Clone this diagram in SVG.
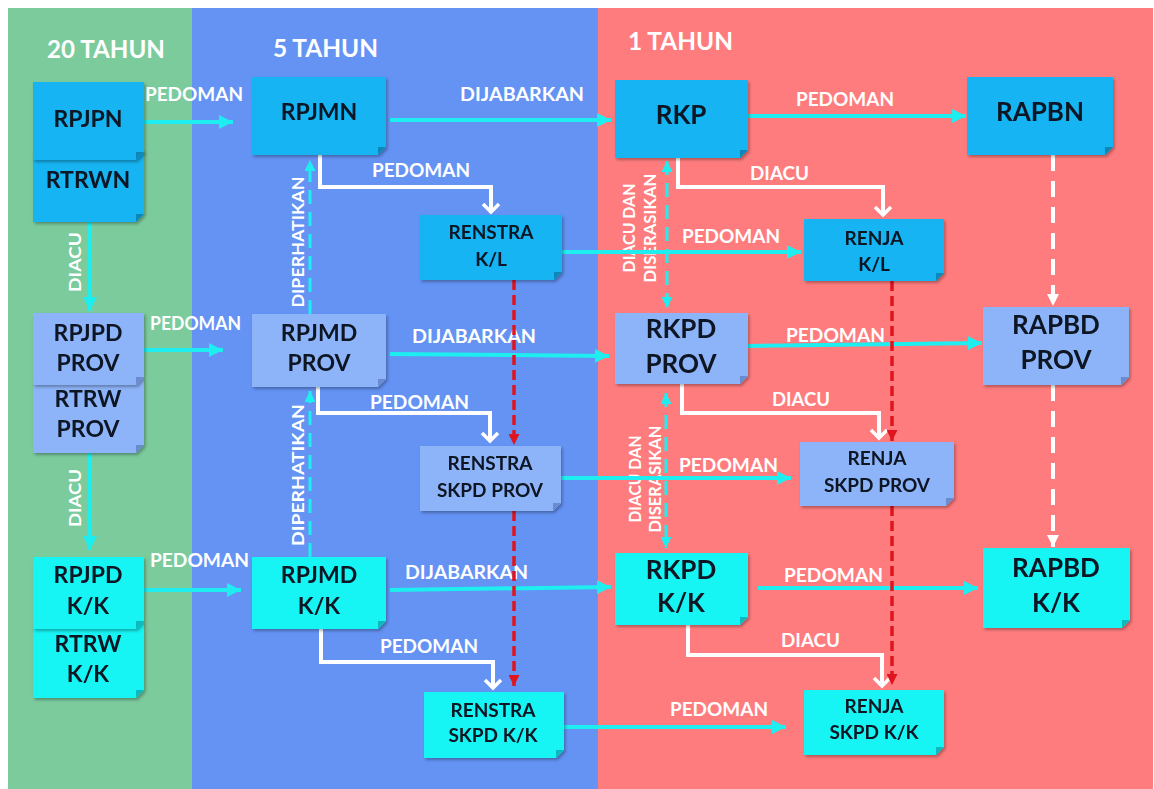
<svg xmlns="http://www.w3.org/2000/svg" width="1154" height="789" viewBox="0 0 1154 789">
<style>
text{font-family:Lato,"Open Sans","Liberation Sans",sans-serif;font-weight:700}
.hd{fill:#fff;font-size:25px}
.lb{fill:#fff;font-size:18px}
.vl{fill:#fff;font-size:17px}
.nt{fill:#0c1422;text-anchor:middle}
.s21{font-size:23px}.s22{font-size:23px}.s24{font-size:24px}.s25{font-size:26px}.s18{font-size:19px}
.n .b{fill:#12b4f2}.n .f{fill:#0b86b8}
.p .b{fill:#8db4f8}.p .f{fill:#6a8ccf}
.k .b{fill:#14f4f4}.k .f{fill:#0bb7bd}
.cy{stroke:#1eeef0;stroke-width:4;fill:none}
.cyd{stroke:#1eeef0;stroke-width:3;fill:none;stroke-dasharray:14 8}
.wh{stroke:#fff;stroke-width:4;fill:none}
.rd{stroke:#e0141e;stroke-width:3.5;fill:none;stroke-dasharray:10 5}
.wd{stroke:#fff;stroke-width:4;fill:none;stroke-dasharray:16 10}
</style>
<defs>
<filter id="sh" x="-10%" y="-10%" width="130%" height="140%"><feDropShadow dx="1.5" dy="2" stdDeviation="1.5" flood-color="#000" flood-opacity="0.3"/></filter>
<marker id="ac" markerUnits="userSpaceOnUse" markerWidth="14" markerHeight="14" refX="12" refY="6" orient="auto" viewBox="0 0 12 12"><path d="M0,0 L12,6 L0,12 Z" fill="#1eeef0"/></marker>
<marker id="acd" markerUnits="userSpaceOnUse" markerWidth="11" markerHeight="11" refX="10" refY="5" orient="auto-start-reverse" viewBox="0 0 10 10"><path d="M0,0 L10,5 L0,10 Z" fill="#1eeef0"/></marker>
<marker id="ar" markerUnits="userSpaceOnUse" markerWidth="11" markerHeight="11" refX="10" refY="5" orient="auto" viewBox="0 0 10 10"><path d="M0,0 L10,5 L0,10 Z" fill="#e0141e"/></marker>
<marker id="aw" markerUnits="userSpaceOnUse" markerWidth="12" markerHeight="12" refX="10" refY="5" orient="auto" viewBox="0 0 10 10"><path d="M0,0 L10,5 L0,10 Z" fill="#fff"/></marker>
<marker id="av" markerUnits="userSpaceOnUse" markerWidth="20" markerHeight="20" refX="10" refY="10" orient="auto" viewBox="0 0 20 20" overflow="visible"><path d="M2,2 L10,10 L2,18" stroke="#fff" stroke-width="3.5" fill="none"/></marker>
</defs>
<rect width="1154" height="789" fill="#fff"/>
<rect x="8" y="8" width="184" height="781" fill="#7bcb9d"/>
<rect x="192" y="8" width="406" height="781" fill="#6493f4"/>
<rect x="598" y="8" width="555" height="781" fill="#ff7c7e"/>
<g id="headers">
<text class="hd" x="47" y="58" textLength="118" lengthAdjust="spacingAndGlyphs">20 TAHUN</text>
<text class="hd" x="273" y="57" textLength="105" lengthAdjust="spacingAndGlyphs">5 TAHUN</text>
<text class="hd" x="628" y="50" textLength="105" lengthAdjust="spacingAndGlyphs">1 TAHUN</text>
</g>
<g id="labels">
<text class="lb" x="145" y="101" textLength="98" lengthAdjust="spacingAndGlyphs">PEDOMAN</text>
<text class="lb" x="460" y="101" textLength="124" lengthAdjust="spacingAndGlyphs">DIJABARKAN</text>
<text class="lb" x="796" y="106" textLength="98" lengthAdjust="spacingAndGlyphs">PEDOMAN</text>
<text class="lb" x="372" y="177" textLength="98" lengthAdjust="spacingAndGlyphs">PEDOMAN</text>
<text class="lb" x="750" y="180" textLength="59" lengthAdjust="spacingAndGlyphs">DIACU</text>
<text class="lb" x="682" y="243" textLength="98" lengthAdjust="spacingAndGlyphs">PEDOMAN</text>
<text class="lb" x="150" y="330" textLength="91" lengthAdjust="spacingAndGlyphs">PEDOMAN</text>
<text class="lb" x="412" y="343" textLength="124" lengthAdjust="spacingAndGlyphs">DIJABARKAN</text>
<text class="lb" x="786" y="342" textLength="99" lengthAdjust="spacingAndGlyphs">PEDOMAN</text>
<text class="lb" x="370" y="409" textLength="99" lengthAdjust="spacingAndGlyphs">PEDOMAN</text>
<text class="lb" x="772" y="406" textLength="58" lengthAdjust="spacingAndGlyphs">DIACU</text>
<text class="lb" x="679" y="472" textLength="99" lengthAdjust="spacingAndGlyphs">PEDOMAN</text>
<text class="lb" x="150" y="567" textLength="99" lengthAdjust="spacingAndGlyphs">PEDOMAN</text>
<text class="lb" x="405" y="579" textLength="123" lengthAdjust="spacingAndGlyphs">DIJABARKAN</text>
<text class="lb" x="784" y="582" textLength="99" lengthAdjust="spacingAndGlyphs">PEDOMAN</text>
<text class="lb" x="380" y="653" textLength="98" lengthAdjust="spacingAndGlyphs">PEDOMAN</text>
<text class="lb" x="781" y="647" textLength="59" lengthAdjust="spacingAndGlyphs">DIACU</text>
<text class="lb" x="670" y="716" textLength="98" lengthAdjust="spacingAndGlyphs">PEDOMAN</text>
<text class="vl" text-anchor="middle" transform="translate(81,262) rotate(-90)" textLength="60" lengthAdjust="spacingAndGlyphs">DIACU</text>
<text class="vl" text-anchor="middle" transform="translate(81,498) rotate(-90)" textLength="58" lengthAdjust="spacingAndGlyphs">DIACU</text>
<text class="vl" text-anchor="middle" transform="translate(304,242) rotate(-90)" textLength="131" lengthAdjust="spacingAndGlyphs">DIPERHATIKAN</text>
<text class="vl" text-anchor="middle" transform="translate(304,475) rotate(-90)" textLength="142" lengthAdjust="spacingAndGlyphs">DIPERHATIKAN</text>
<text class="vl" text-anchor="middle" transform="translate(635,228) rotate(-90)" textLength="89" lengthAdjust="spacingAndGlyphs">DIACU DAN</text>
<text class="vl" text-anchor="middle" transform="translate(656,228) rotate(-90)" textLength="109" lengthAdjust="spacingAndGlyphs">DISERASIKAN</text>
<text class="vl" text-anchor="middle" transform="translate(641,479) rotate(-90)" textLength="87" lengthAdjust="spacingAndGlyphs">DIACU DAN</text>
<text class="vl" text-anchor="middle" transform="translate(661,479) rotate(-90)" textLength="107" lengthAdjust="spacingAndGlyphs">DISERASIKAN</text>
</g>
<g id="connectors">
<line class="cy" x1="144" y1="122" x2="233" y2="122" marker-end="url(#ac)"/>
<line class="cy" x1="390" y1="120" x2="611" y2="120" marker-end="url(#ac)"/>
<line class="cy" x1="748" y1="116" x2="966" y2="116" marker-end="url(#ac)"/>
<line class="cy" x1="562" y1="252" x2="801" y2="252" marker-end="url(#ac)"/>
<line class="cy" x1="144" y1="350" x2="223" y2="350" marker-end="url(#ac)"/>
<line class="cy" x1="390" y1="354" x2="609" y2="356" marker-end="url(#ac)"/>
<line class="cy" x1="748" y1="346" x2="982" y2="343" marker-end="url(#ac)"/>
<line class="cy" x1="561" y1="478" x2="791" y2="478" marker-end="url(#ac)"/>
<line class="cy" x1="144" y1="590" x2="241" y2="590" marker-end="url(#ac)"/>
<line class="cy" x1="390" y1="590" x2="611" y2="587" marker-end="url(#ac)"/>
<line class="cy" x1="758" y1="588" x2="978" y2="588" marker-end="url(#ac)"/>
<line class="cy" x1="564" y1="727" x2="786" y2="727" marker-end="url(#ac)"/>
<line class="cy" x1="90" y1="222" x2="90" y2="311" marker-end="url(#ac)"/>
<line class="cy" x1="90" y1="453" x2="90" y2="550" marker-end="url(#ac)"/>
<line class="cyd" x1="310" y1="314" x2="310" y2="160" marker-end="url(#acd)"/>
<line class="cyd" x1="310" y1="557" x2="310" y2="391" marker-end="url(#acd)"/>
<line class="cyd" x1="667" y1="161" x2="667" y2="308" marker-start="url(#acd)" marker-end="url(#acd)"/>
<line class="cyd" x1="666" y1="393" x2="666" y2="548" marker-start="url(#acd)" marker-end="url(#acd)"/>
<path class="wh" d="M320,155 V187 H491 V212" marker-end="url(#av)"/>
<path class="wh" d="M678,158 V187 H883 V215" marker-end="url(#av)"/>
<path class="wh" d="M318,387 V413 H490 V441" marker-end="url(#av)"/>
<path class="wh" d="M682,384 V413 H879 V438" marker-end="url(#av)"/>
<path class="wh" d="M321,629 V662 H493 V688" marker-end="url(#av)"/>
<path class="wh" d="M688,625 V655 H882 V686" marker-end="url(#av)"/>
<line class="rd" x1="514" y1="280" x2="514" y2="445" marker-end="url(#ar)"/>
<line class="rd" x1="514" y1="511" x2="514" y2="686" marker-end="url(#ar)"/>
<line class="rd" x1="892" y1="281" x2="892" y2="441" marker-end="url(#ar)"/>
<line class="rd" x1="892" y1="506" x2="892" y2="685" marker-end="url(#ar)"/>
<line class="wd" x1="1053" y1="155" x2="1053" y2="306" marker-end="url(#aw)"/>
<line class="wd" x1="1053" y1="385" x2="1053" y2="547" marker-end="url(#aw)"/>
</g>
<g id="rtrwn" class="n" filter="url(#sh)"><path class="b" d="M33,150 H144 V214 L136,222 H33 Z"/><path class="f" d="M136,214 H144 L136,222 Z"/><text class="nt s22" x="88" y="188">RTRWN</text></g>
<g id="rpjpn" class="n" filter="url(#sh)"><path class="b" d="M33,82 H144 V152 L136,160 H33 Z"/><path class="f" d="M136,152 H144 L136,160 Z"/><text class="nt s21" x="88" y="127">RPJPN</text></g>
<g id="rpjmn" class="n" filter="url(#sh)"><path class="b" d="M252,77 H386 V147 L378,155 H252 Z"/><path class="f" d="M378,147 H386 L378,155 Z"/><text class="nt s22" x="319" y="120">RPJMN</text></g>
<g id="rkp" class="n" filter="url(#sh)"><path class="b" d="M615,80 H748 V150 L740,158 H615 Z"/><path class="f" d="M740,150 H748 L740,158 Z"/><text class="nt s25" x="681" y="124">RKP</text></g>
<g id="rapbn" class="n" filter="url(#sh)"><path class="b" d="M967,77 H1113 V147 L1105,155 H967 Z"/><path class="f" d="M1105,147 H1113 L1105,155 Z"/><text class="nt s25" x="1040" y="121">RAPBN</text></g>
<g id="renstra-kl" class="n" filter="url(#sh)"><path class="b" d="M420,215 H562 V272 L554,280 H420 Z"/><path class="f" d="M554,272 H562 L554,280 Z"/><text class="nt s18" x="491" y="239">RENSTRA</text><text class="nt s18" x="491" y="266">K/L</text></g>
<g id="renja-kl" class="n" filter="url(#sh)"><path class="b" d="M804,219 H944 V273 L936,281 H804 Z"/><path class="f" d="M936,273 H944 L936,281 Z"/><text class="nt s18" x="874" y="245">RENJA</text><text class="nt s18" x="874" y="271">K/L</text></g>
<g id="rtrw-prov" class="p" filter="url(#sh)"><path class="b" d="M33,378 H144 V445 L136,453 H33 Z"/><path class="f" d="M136,445 H144 L136,453 Z"/><text class="nt s22" x="88" y="407">RTRW</text><text class="nt s22" x="88" y="437">PROV</text></g>
<g id="rpjpd-prov" class="p" filter="url(#sh)"><path class="b" d="M33,313 H144 V377 L136,385 H33 Z"/><path class="f" d="M136,377 H144 L136,385 Z"/><text class="nt s22" x="88" y="341">RPJPD</text><text class="nt s22" x="88" y="371">PROV</text></g>
<g id="rpjmd-prov" class="p" filter="url(#sh)"><path class="b" d="M252,314 H386 V379 L378,387 H252 Z"/><path class="f" d="M378,379 H386 L378,387 Z"/><text class="nt s22" x="319" y="341">RPJMD</text><text class="nt s22" x="319" y="371">PROV</text></g>
<g id="rkpd-prov" class="p" filter="url(#sh)"><path class="b" d="M615,313 H748 V376 L740,384 H615 Z"/><path class="f" d="M740,376 H748 L740,384 Z"/><text class="nt s25" x="681" y="338">RKPD</text><text class="nt s25" x="681" y="373">PROV</text></g>
<g id="rapbd-prov" class="p" filter="url(#sh)"><path class="b" d="M983,307 H1129 V377 L1121,385 H983 Z"/><path class="f" d="M1121,377 H1129 L1121,385 Z"/><text class="nt s25" x="1056" y="334">RAPBD</text><text class="nt s25" x="1056" y="369">PROV</text></g>
<g id="renstra-skpd-prov" class="p" filter="url(#sh)"><path class="b" d="M420,446 H561 V503 L553,511 H420 Z"/><path class="f" d="M553,503 H561 L553,511 Z"/><text class="nt s18" x="490" y="470">RENSTRA</text><text class="nt s18" x="490" y="497">SKPD PROV</text></g>
<g id="renja-skpd-prov" class="p" filter="url(#sh)"><path class="b" d="M800,442 H954 V498 L946,506 H800 Z"/><path class="f" d="M946,498 H954 L946,506 Z"/><text class="nt s18" x="877" y="465">RENJA</text><text class="nt s18" x="877" y="492">SKPD PROV</text></g>
<g id="rtrw-kk" class="k" filter="url(#sh)"><path class="b" d="M33,622 H144 V690 L136,698 H33 Z"/><path class="f" d="M136,690 H144 L136,698 Z"/><text class="nt s22" x="88" y="652">RTRW</text><text class="nt s22" x="88" y="682">K/K</text></g>
<g id="rpjpd-kk" class="k" filter="url(#sh)"><path class="b" d="M33,557 H144 V621 L136,629 H33 Z"/><path class="f" d="M136,621 H144 L136,629 Z"/><text class="nt s22" x="88" y="583">RPJPD</text><text class="nt s22" x="88" y="614">K/K</text></g>
<g id="rpjmd-kk" class="k" filter="url(#sh)"><path class="b" d="M252,557 H386 V621 L378,629 H252 Z"/><path class="f" d="M378,621 H386 L378,629 Z"/><text class="nt s22" x="319" y="583">RPJMD</text><text class="nt s22" x="319" y="614">K/K</text></g>
<g id="rkpd-kk" class="k" filter="url(#sh)"><path class="b" d="M615,553 H748 V617 L740,625 H615 Z"/><path class="f" d="M740,617 H748 L740,625 Z"/><text class="nt s25" x="681" y="579">RKPD</text><text class="nt s25" x="681" y="612">K/K</text></g>
<g id="rapbd-kk" class="k" filter="url(#sh)"><path class="b" d="M983,548 H1130 V620 L1122,628 H983 Z"/><path class="f" d="M1122,620 H1130 L1122,628 Z"/><text class="nt s25" x="1056" y="577">RAPBD</text><text class="nt s25" x="1056" y="612">K/K</text></g>
<g id="renstra-skpd-kk" class="k" filter="url(#sh)"><path class="b" d="M424,692 H564 V750 L556,758 H424 Z"/><path class="f" d="M556,750 H564 L556,758 Z"/><text class="nt s18" x="493" y="717">RENSTRA</text><text class="nt s18" x="493" y="742">SKPD K/K</text></g>
<g id="renja-skpd-kk" class="k" filter="url(#sh)"><path class="b" d="M804,690 H944 V747 L936,755 H804 Z"/><path class="f" d="M936,747 H944 L936,755 Z"/><text class="nt s18" x="874" y="713">RENJA</text><text class="nt s18" x="874" y="739">SKPD K/K</text></g>
</svg>
